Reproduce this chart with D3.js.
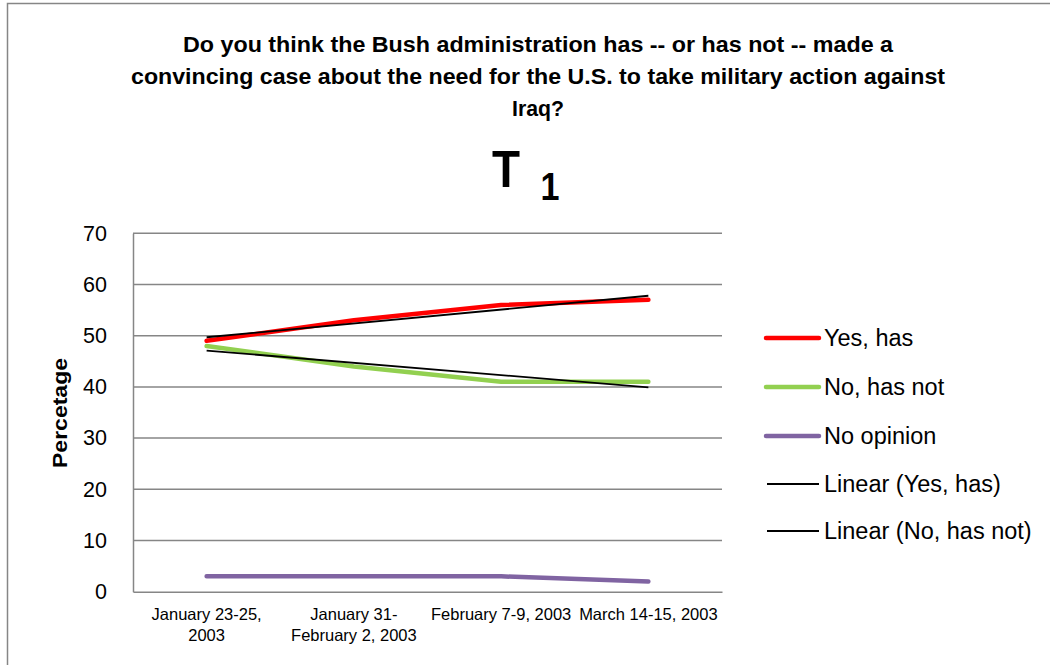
<!DOCTYPE html>
<html><head><meta charset="utf-8">
<script src="https://cdn.jsdelivr.net/npm/d3@7"></script>
<style>body{margin:0;background:#fff}svg{display:block}</style>
</head><body>
<script>
const categories = [["January 23-25,","2003"],["January 31-","February 2, 2003"],["February 7-9, 2003"],["March 14-15, 2003"]];
const yesHas = [49, 53, 56, 57];
const noHasNot = [48, 44, 41, 41];
const noOpinion = [3, 3, 3, 2];
const yTicks = [0,10,20,30,40,50,60,70];
const titleLines = ["Do you think the Bush administration has -- or has not -- made a","convincing case about the need for the U.S. to take military action against","Iraq?"];
const seriesNames = ["Yes, has","No, has not","No opinion","Linear (Yes, has)","Linear (No, has not)"];

const W=1050,H=665;
const svg=d3.select("body").append("svg").attr("width",W).attr("height",H);
const font="'Liberation Sans', Arial, sans-serif";

// outer border
svg.append("rect").attr("x",7.5).attr("y",3.5).attr("width",1100).attr("height",700)
  .attr("fill","#fff").attr("stroke","#868686").attr("stroke-width",1.5);

// title
const tl=[{y:52,len:710},{y:84,len:814},{y:116,len:52}];
titleLines.forEach((t,i)=>{
  svg.append("text").attr("x",538).attr("y",tl[i].y).attr("text-anchor","middle")
   .attr("font-family",font).attr("font-weight","bold").attr("font-size",21.5)
   .attr("textLength",tl[i].len).attr("lengthAdjust","spacingAndGlyphs").text(t);
});
svg.append("text").attr("x",506).attr("y",187).attr("text-anchor","middle")
  .attr("font-family",font).attr("font-weight","bold").attr("font-size",52)
  .attr("textLength",28).attr("lengthAdjust","spacingAndGlyphs").text("T");
svg.append("text").attr("x",550).attr("y",200).attr("text-anchor","middle")
  .attr("font-family",font).attr("font-weight","bold").attr("font-size",38)
  .attr("textLength",19).attr("lengthAdjust","spacingAndGlyphs").text("1");

const L=133,R=722,T=233.3,B=591.7;
const x=d3.scaleBand().domain(d3.range(categories.length)).range([L,R]);
const cx=i=>x(i)+x.bandwidth()/2;
const y=d3.scaleLinear().domain([0,70]).range([B,T]);

// gridlines
svg.append("g").selectAll("line").data(yTicks.filter(d=>d>0)).join("line")
  .attr("x1",L).attr("x2",R).attr("y1",d=>y(d)).attr("y2",d=>y(d))
  .attr("stroke","#868686").attr("stroke-width",1.5);

// axes
const yAxis=svg.append("g").attr("transform",`translate(${L},0)`)
  .call(d3.axisLeft(y).tickValues(yTicks).tickSize(0).tickPadding(26));
yAxis.select(".domain").attr("stroke","#868686").attr("stroke-width",1.5);
yAxis.selectAll("text").attr("font-family",font).attr("font-size",21.5).attr("fill","#000");

const xAxis=svg.append("g").attr("transform",`translate(0,${B})`)
  .call(d3.axisBottom(x).tickSize(0).tickFormat(""));
xAxis.select(".domain").attr("stroke","#868686").attr("stroke-width",1.5);
xAxis.selectAll(".tick").each(function(d){
  const g=d3.select(this);
  categories[d].forEach((s,j)=>{
    g.append("text").attr("y",28+j*21).attr("text-anchor","middle")
     .attr("font-family",font).attr("font-size",16.5).attr("fill","#000").text(s);
  });
});

// y label
svg.append("text").attr("transform","translate(67,413) rotate(-90)").attr("text-anchor","middle")
  .attr("font-family",font).attr("font-weight","bold").attr("font-size",20)
  .attr("textLength",110).attr("lengthAdjust","spacingAndGlyphs").text("Percetage");

// series
const line=d3.line().x((d,i)=>cx(i)).y(d=>y(d));
const series=[{v:yesHas,c:"#ff0000"},{v:noHasNot,c:"#92d050"},{v:noOpinion,c:"#8064a2"}];
series.forEach(s=>{
  svg.append("path").datum(s.v).attr("d",line).attr("fill","none").attr("stroke",s.c)
    .attr("stroke-width",4.5).attr("stroke-linecap","round").attr("stroke-linejoin","round");
});
// linear trendlines (least squares)
function trend(v){
  const n=v.length,xs=d3.range(1,n+1),mx=d3.mean(xs),my=d3.mean(v);
  const b=d3.sum(xs.map((xx,i)=>(xx-mx)*(v[i]-my)))/d3.sum(xs.map(xx=>(xx-mx)**2));
  return xs.map(xx=>my+b*(xx-mx));
}
[yesHas,noHasNot].forEach(v=>{
  const t=trend(v);
  svg.append("line").attr("x1",cx(0)).attr("x2",cx(v.length-1)).attr("y1",y(t[0])).attr("y2",y(t[t.length-1]))
    .attr("stroke","#000").attr("stroke-width",1.8);
});

// legend
const legC=["#ff0000","#92d050","#8064a2","#000","#000"];
const legY=[338,387,436,484,531];
seriesNames.forEach((n,i)=>{
  svg.append("line").attr("x1",i<3?766:767).attr("x2",819).attr("y1",legY[i]).attr("y2",legY[i])
    .attr("stroke",legC[i]).attr("stroke-width",i<3?4.5:1.8).attr("stroke-linecap",i<3?"round":"butt");
  svg.append("text").attr("x",824).attr("y",legY[i]+8).attr("font-family",font).attr("font-size",23.5).text(n);
});
</script>
</body></html>
